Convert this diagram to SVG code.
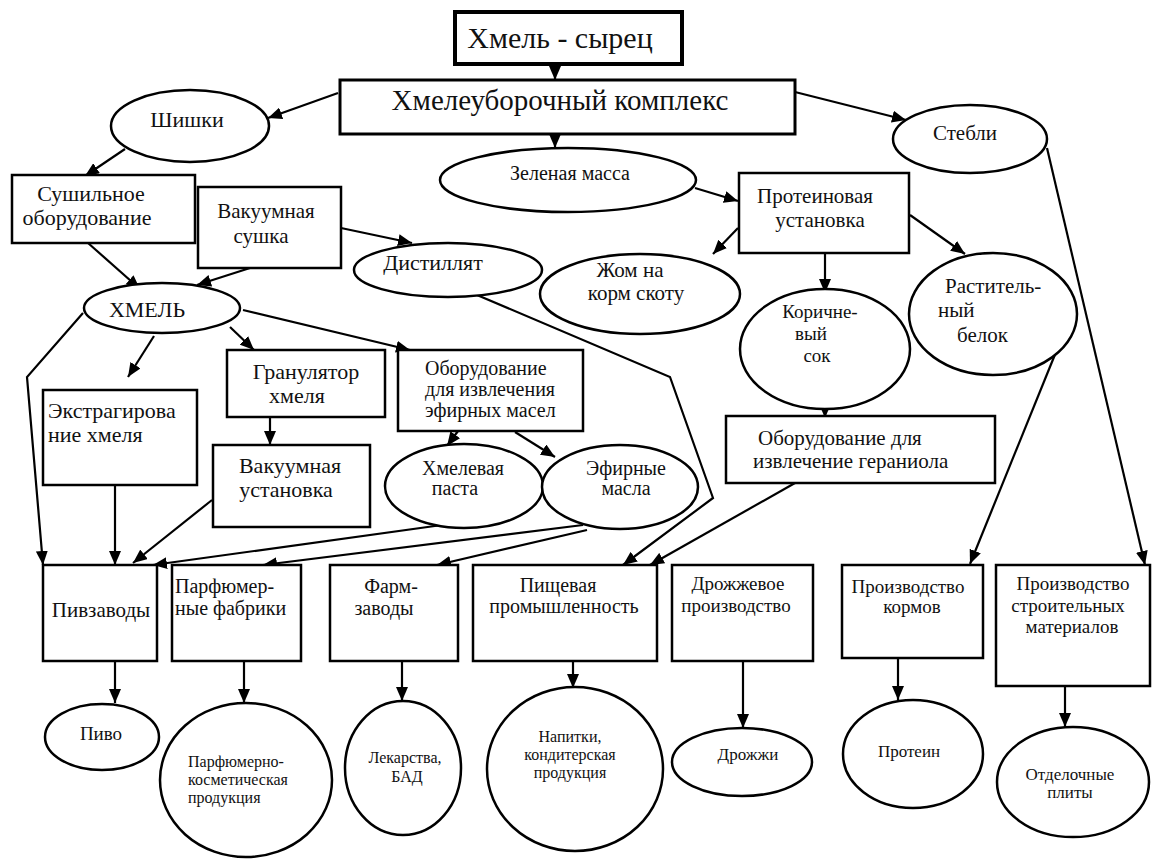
<svg xmlns="http://www.w3.org/2000/svg" width="1152" height="859" viewBox="0 0 1152 859">
<style>
.n{fill:#fff;stroke:#000;stroke-width:2.5}
.t{font-family:"Liberation Serif","DejaVu Serif","Noto Serif",Tinos,serif;fill:#111}
.c{text-anchor:middle}
.f30{font-size:30px}.f28{font-size:29px}.f22{font-size:22px}.f21{font-size:21px}.f20{font-size:20px}.f19{font-size:19px}.f17{font-size:17px}.f16{font-size:16px}
.e{fill:none;stroke:#000;stroke-width:2.2}
</style>
<defs>
<marker id="ah" markerWidth="14" markerHeight="12" refX="14" refY="6" orient="auto" markerUnits="userSpaceOnUse"><path d="M0,0 L14,6 L0,12 z" fill="#000"/></marker>
</defs>
<rect width="1152" height="859" fill="#fff"/>
<g id="connectors">
<path class="e" marker-end="url(#ah)" d="M555,64 L555,80"/>
<path class="e" marker-end="url(#ah)" d="M338,93 L268,118"/>
<path class="e" marker-end="url(#ah)" d="M555,134 L555,148"/>
<path class="e" marker-end="url(#ah)" d="M795,92 L906,120"/>
<path class="e" marker-end="url(#ah)" d="M125,149 L85,176"/>
<path class="e" marker-end="url(#ah)" d="M88,243 L140,289"/>
<path class="e" marker-end="url(#ah)" d="M250,268 L197,285"/>
<path class="e" marker-end="url(#ah)" d="M341,228 L412,243"/>
<path class="e" marker-end="url(#ah)" d="M695,188 L738,201"/>
<path class="e" marker-end="url(#ah)" d="M738,228 L713,254"/>
<path class="e" marker-end="url(#ah)" d="M825,253 L825,293"/>
<path class="e" marker-end="url(#ah)" d="M910,215 L965,254"/>
<path class="e" marker-end="url(#ah)" d="M825,405 L825,418"/>
<path class="e" marker-end="url(#ah)" d="M795,483 L650,565"/>
<path class="e" marker-end="url(#ah)" d="M477,295 L670,377 L713,498 L623,565"/>
<path class="e" marker-end="url(#ah)" d="M1056,352 L970,564"/>
<path class="e" marker-end="url(#ah)" d="M1047,148 L1145,565"/>
<path class="e" marker-end="url(#ah)" d="M154,336 L128,377"/>
<path class="e" marker-end="url(#ah)" d="M230,327 L254,350"/>
<path class="e" marker-end="url(#ah)" d="M243,310 L410,350"/>
<path class="e" marker-end="url(#ah)" d="M83,313 L27,377 L43,565"/>
<path class="e" marker-end="url(#ah)" d="M115,485 L115,565"/>
<path class="e" marker-end="url(#ah)" d="M270,417 L270,445"/>
<path class="e" marker-end="url(#ah)" d="M212,500 L133,563"/>
<path class="e" marker-end="url(#ah)" d="M458,431 L447,446"/>
<path class="e" marker-end="url(#ah)" d="M515,432 L555,457"/>
<path class="e" marker-end="url(#ah)" d="M442,525 L153,565"/>
<path class="e" marker-end="url(#ah)" d="M583,525 L263,565"/>
<path class="e" marker-end="url(#ah)" d="M587,530 L437,565"/>
<path class="e" marker-end="url(#ah)" d="M115,661 L115,703"/>
<path class="e" marker-end="url(#ah)" d="M244,661 L244,703"/>
<path class="e" marker-end="url(#ah)" d="M402,661 L402,701"/>
<path class="e" marker-end="url(#ah)" d="M573,661 L573,688"/>
<path class="e" marker-end="url(#ah)" d="M743,661 L743,728"/>
<path class="e" marker-end="url(#ah)" d="M898,658 L898,700"/>
<path class="e" marker-end="url(#ah)" d="M1065,686 L1065,727"/>
</g>
<g id="hmel-syrec"><rect class="n" x="455" y="12" width="227" height="52" style="stroke-width:4"/><text class="t c f30" x="560" y="48">Хмель - сырец</text></g>
<g id="kompleks"><rect class="n" x="340" y="80" width="455" height="54" style="stroke-width:3"/><text class="t c f28" x="560" y="110">Хмелеуборочный комплекс</text></g>
<g id="shishki"><ellipse class="n" cx="190" cy="126" rx="79" ry="36"/><text class="t c f22" x="187" y="127">Шишки</text></g>
<g id="zelenaya"><ellipse class="n" cx="568" cy="180" rx="128" ry="32"/><text class="t c f20" x="570" y="180">Зеленая масса</text></g>
<g id="stebli"><ellipse class="n" cx="970" cy="139" rx="77" ry="34"/><text class="t c f21" x="965" y="140">Стебли</text></g>
<g id="sushilnoe"><rect class="n" x="12" y="175" width="183" height="68"/><text class="t c f22" x="91" y="201">Сушильное</text><text class="t c f22" x="87" y="225">оборудование</text></g>
<g id="vak-sushka"><rect class="n" x="198" y="187" width="143" height="81"/><text class="t c f21" x="266" y="218">Вакуумная</text><text class="t c f21" x="261" y="243">сушка</text></g>
<g id="distillyat"><ellipse class="n" cx="448" cy="270" rx="94" ry="27"/><text class="t c f22" x="433" y="270">Дистиллят</text></g>
<g id="protein-ust"><rect class="n" x="739" y="173" width="170" height="80"/><text class="t c f21" x="815" y="203">Протеиновая</text><text class="t c f21" x="820" y="227">установка</text></g>
<g id="zhom"><ellipse class="n" cx="640" cy="294" rx="100" ry="40"/><text class="t c f21" x="630" y="277">Жом на</text><text class="t c f21" x="636" y="300">корм скоту</text></g>
<g id="rast-belok"><ellipse class="n" cx="993" cy="314" rx="84" ry="61"/><text class="t f21" x="945" y="293">Раститель-</text><text class="t f21" x="938" y="317">ный</text><text class="t f21" x="957" y="342">белок</text></g>
<g id="korichn"><ellipse class="n" cx="825" cy="349" rx="85" ry="60"/><text class="t c f19" x="820" y="318">Коричне-</text><text class="t c f19" x="811" y="340">вый</text><text class="t c f19" x="817" y="362">сок</text></g>
<g id="geraniol"><rect class="n" x="726" y="416" width="269" height="67"/><text class="t f21" x="758" y="445">Оборудование для</text><text class="t f21" x="753" y="468">извлечение гераниола</text></g>
<g id="hmel"><ellipse class="n" cx="162" cy="308" rx="78" ry="25"/><text class="t c f22" x="147" y="317">ХМЕЛЬ</text></g>
<g id="ekstr"><rect class="n" x="43" y="390" width="154" height="95"/><text class="t f22" x="48" y="418">Экстрагирова</text><text class="t f22" x="48" y="442">ние хмеля</text></g>
<g id="granul"><rect class="n" x="227" y="350" width="158" height="67"/><text class="t c f22" x="306" y="379">Гранулятор</text><text class="t c f22" x="297" y="403">хмеля</text></g>
<g id="vak-ust"><rect class="n" x="213" y="445" width="157" height="82"/><text class="t c f22" x="290" y="473">Вакуумная</text><text class="t c f22" x="286" y="497">установка</text></g>
<g id="efir-obor"><rect class="n" x="398" y="350" width="185" height="81"/><text class="t f20" x="425" y="375">Оборудование</text><text class="t f20" x="425" y="396">для извлечения</text><text class="t f20" x="425" y="417">эфирных масел</text></g>
<g id="pasta"><ellipse class="n" cx="464" cy="486" rx="79" ry="42"/><text class="t c f20" x="463" y="475">Хмелевая</text><text class="t c f20" x="455" y="495">паста</text></g>
<g id="efir-masla"><ellipse class="n" cx="620" cy="487" rx="78" ry="42"/><text class="t c f20" x="626" y="475">Эфирные</text><text class="t c f20" x="626" y="495">масла</text></g>
<g id="pivzavody"><rect class="n" x="43" y="565" width="114" height="96"/><text class="t c f21" x="101" y="617">Пивзаводы</text></g>
<g id="parfum"><rect class="n" x="172" y="565" width="129" height="96"/><text class="t f20" x="175" y="593">Парфюмер-</text><text class="t f20" x="175" y="615">ные фабрики</text></g>
<g id="farm"><rect class="n" x="330" y="565" width="128" height="96"/><text class="t c f20" x="391" y="593">Фарм-</text><text class="t c f20" x="384" y="615">заводы</text></g>
<g id="pishch"><rect class="n" x="473" y="565" width="184" height="96"/><text class="t c f20" x="558" y="592">Пищевая</text><text class="t c f20" x="564" y="613">промышленность</text></g>
<g id="drozh-pr"><rect class="n" x="672" y="565" width="141" height="96"/><text class="t c f19" x="738" y="590">Дрожжевое</text><text class="t c f19" x="736" y="612">производство</text></g>
<g id="kormov"><rect class="n" x="842" y="565" width="141" height="93"/><text class="t c f19" x="908" y="593">Производство</text><text class="t c f19" x="912" y="613">кормов</text></g>
<g id="stroit"><rect class="n" x="996" y="565" width="154" height="121"/><text class="t c f19" x="1073" y="590">Производство</text><text class="t c f19" x="1068" y="612">строительных</text><text class="t c f19" x="1072" y="633">материалов</text></g>
<g id="pivo"><ellipse class="n" cx="102" cy="737" rx="57" ry="33"/><text class="t c f19" x="101" y="740">Пиво</text></g>
<g id="parf-prod"><ellipse class="n" cx="246" cy="780" rx="86" ry="77"/><text class="t f16" x="188" y="767">Парфюмерно-</text><text class="t f16" x="188" y="785">косметическая</text><text class="t f16" x="188" y="803">продукция</text></g>
<g id="lekarstva"><ellipse class="n" cx="403" cy="768" rx="58" ry="67"/><text class="t c f16" x="405" y="763">Лекарства,</text><text class="t c f16" x="407" y="782">БАД</text></g>
<g id="napitki"><ellipse class="n" cx="575" cy="769" rx="88" ry="82"/><text class="t c f16" x="570" y="742">Напитки,</text><text class="t c f16" x="570" y="760">кондитерская</text><text class="t c f16" x="570" y="778">продукция</text></g>
<g id="drozhzhi"><ellipse class="n" cx="742" cy="762" rx="70" ry="34"/><text class="t c f17" x="748" y="760">Дрожжи</text></g>
<g id="protein"><ellipse class="n" cx="913" cy="754" rx="70" ry="54"/><text class="t c f17" x="909" y="757">Протеин</text></g>
<g id="plity"><ellipse class="n" cx="1073" cy="782" rx="76" ry="55"/><text class="t c f17" x="1070" y="780">Отделочные</text><text class="t c f17" x="1070" y="798">плиты</text></g>
</svg>
